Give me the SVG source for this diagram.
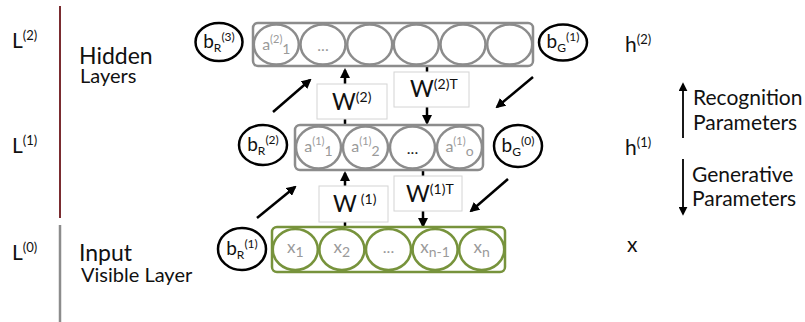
<svg xmlns="http://www.w3.org/2000/svg" width="805" height="322" viewBox="0 0 805 322">
<style>
text{font-family:Lato,"Open Sans","Liberation Sans",sans-serif;fill:#111}
.lbl{font-size:21px}
.sup{font-size:13px}
.bias{fill:#fff;stroke:#000;stroke-width:2.5}
.bt{font-size:19px;text-anchor:middle}
.bs{font-size:12px}
.layer{fill:none;stroke:#8c8c8c;stroke-width:2.5}
.unit{fill:none;stroke:#8c8c8c;stroke-width:2.5}
.g .layer,.g .unit{stroke:#77933c}
.ut{font-size:16px;fill:#9a9a9a;text-anchor:middle}
.us{font-size:11px;fill:#9a9a9a}
.ub{font-size:14px;fill:#9a9a9a}
.box{fill:#fff;stroke:#d4d4d4;stroke-width:1}
.wt{font-size:23px;fill:#111}
.ws{font-size:14px}
.arr{stroke:#000;stroke-width:2.5;fill:none;marker-end:url(#ah)}
.rt{font-size:21px}
</style>
<defs>
<marker id="ah" viewBox="0 0 10 10" refX="8" refY="5" markerWidth="4" markerHeight="4" orient="auto" markerUnits="strokeWidth">
<path d="M0,0 L10,5 L0,10 z" fill="#000"/>
</marker>
<marker id="ah2" viewBox="0 0 10 10" refX="8" refY="5" markerWidth="5" markerHeight="5" orient="auto" markerUnits="strokeWidth">
<path d="M0,0 L10,5 L0,10 z" fill="#000"/>
</marker>
</defs>

<g id="left-axis">
<line x1="60" y1="6" x2="60" y2="218" stroke="#7a2c30" stroke-width="2"/>
<line x1="60" y1="225" x2="60" y2="322" stroke="#8c8c8c" stroke-width="2.5"/>
<text class="lbl" x="12" y="48">L<tspan class="sup" dy="-8">(2)</tspan></text>
<text class="lbl" x="12" y="153">L<tspan class="sup" dy="-8">(1)</tspan></text>
<text class="lbl" x="12" y="260">L<tspan class="sup" dy="-8">(0)</tspan></text>
<text x="79" y="64" style="font-size:23px">Hidden</text>
<text x="80" y="83" style="font-size:20px">Layers</text>
<text x="79" y="261" style="font-size:23px">Input</text>
<text x="81" y="282" style="font-size:20px">Visible Layer</text>
</g>

<g id="connectors">
<line class="arr" x1="273" y1="112" x2="310" y2="80"/>
<line class="arr" x1="533" y1="77" x2="497" y2="107"/>
<line class="arr" x1="257" y1="218" x2="295" y2="187"/>
<line class="arr" x1="508" y1="179" x2="471" y2="211"/>
<line class="arr" x1="345" y1="125" x2="345" y2="70"/>
<line class="arr" x1="427" y1="67" x2="427" y2="123"/>
<line class="arr" x1="345" y1="228" x2="345" y2="173"/>
<line class="arr" x1="423" y1="170" x2="423" y2="226"/>
</g>

<g id="layer-h2">
<rect class="layer" x="253" y="23" width="280" height="43" rx="5"/>
<ellipse class="unit" cx="276.3" cy="44.5" rx="22.5" ry="20"/>
<ellipse class="unit" cx="323" cy="44.5" rx="22.5" ry="20"/>
<ellipse class="unit" cx="369.7" cy="44.5" rx="22.5" ry="20"/>
<ellipse class="unit" cx="416.3" cy="44.5" rx="22.5" ry="20"/>
<ellipse class="unit" cx="463" cy="44.5" rx="22.5" ry="20"/>
<ellipse class="unit" cx="509.7" cy="44.5" rx="22.5" ry="20"/>
<text class="ut" x="276.3" y="50">a<tspan class="us" dy="-7">(2)</tspan><tspan class="ub" dy="11">1</tspan></text>
<text class="ut" x="323" y="51">...</text>
</g>

<g id="layer-h1">
<rect class="layer" x="295" y="125" width="188" height="45" rx="5"/>
<ellipse class="unit" cx="318.5" cy="147.5" rx="22.5" ry="21"/>
<ellipse class="unit" cx="365.5" cy="147.5" rx="22.5" ry="21"/>
<ellipse class="unit" cx="412.5" cy="147.5" rx="22.5" ry="21"/>
<ellipse class="unit" cx="459.5" cy="147.5" rx="22.5" ry="21"/>
<text class="ut" x="318.5" y="152">a<tspan class="us" dy="-7">(1)</tspan><tspan class="ub" dy="11">1</tspan></text>
<text class="ut" x="365.5" y="152">a<tspan class="us" dy="-7">(1)</tspan><tspan class="ub" dy="11">2</tspan></text>
<text class="ut" x="412.5" y="154" style="fill:#222">...</text>
<text class="ut" x="459.5" y="152">a<tspan class="us" dy="-7">(1)</tspan><tspan class="ub" dy="11">o</tspan></text>
</g>

<g id="layer-x" class="g">
<rect class="layer" x="272" y="227" width="233" height="45" rx="5"/>
<ellipse class="unit" cx="295.3" cy="249.5" rx="22.5" ry="20.5"/>
<ellipse class="unit" cx="341.9" cy="249.5" rx="22.5" ry="20.5"/>
<ellipse class="unit" cx="388.5" cy="249.5" rx="22.5" ry="20.5"/>
<ellipse class="unit" cx="435.1" cy="249.5" rx="22.5" ry="20.5"/>
<ellipse class="unit" cx="481.7" cy="249.5" rx="22.5" ry="20.5"/>
<text class="ut" x="295.3" y="253" style="font-size:17px">x<tspan class="ub" dy="4">1</tspan></text>
<text class="ut" x="341.9" y="253" style="font-size:17px">x<tspan class="ub" dy="4">2</tspan></text>
<text class="ut" x="388.5" y="253">...</text>
<text class="ut" x="435.1" y="253" style="font-size:17px">x<tspan class="ub" dy="4">n-1</tspan></text>
<text class="ut" x="481.7" y="253" style="font-size:17px">x<tspan class="ub" dy="4">n</tspan></text>
</g>

<g id="box-w2">
<rect class="box" x="317" y="84" width="70" height="35"/>
<text class="wt" x="332" y="110">W<tspan class="ws" dy="-8">(2)</tspan></text>
</g>
<g id="box-w2t">
<rect class="box" x="394" y="72" width="75" height="35"/>
<text class="wt" x="410" y="97">W<tspan class="ws" dy="-8">(2)T</tspan></text>
</g>
<g id="box-w1">
<rect class="box" x="319" y="186" width="69" height="36"/>
<text class="wt" x="333" y="212">W<tspan class="ws" dx="4" dy="-8">(1)</tspan></text>
</g>
<g id="box-w1t">
<rect class="box" x="394" y="176" width="68" height="35"/>
<text class="wt" x="406" y="202">W<tspan class="ws" dy="-8">(1)T</tspan></text>
</g>

<g id="bias-r3">
<ellipse class="bias" cx="219" cy="42" rx="23.5" ry="19"/>
<text class="bt" x="219" y="48">b<tspan class="bs" dy="4">R</tspan><tspan class="bs" dy="-11">(3)</tspan></text>
</g>
<g id="bias-g1">
<ellipse class="bias" cx="563" cy="42.5" rx="24" ry="18"/>
<text class="bt" x="563" y="48">b<tspan class="bs" dy="4">G</tspan><tspan class="bs" dy="-11">(1)</tspan></text>
</g>
<g id="bias-r2">
<ellipse class="bias" cx="263" cy="145" rx="24" ry="20"/>
<text class="bt" x="263" y="151">b<tspan class="bs" dy="4">R</tspan><tspan class="bs" dy="-11">(2)</tspan></text>
</g>
<g id="bias-g0">
<ellipse class="bias" cx="518" cy="146" rx="24" ry="21"/>
<text class="bt" x="518" y="152">b<tspan class="bs" dy="4">G</tspan><tspan class="bs" dy="-11">(0)</tspan></text>
</g>
<g id="bias-r1">
<ellipse class="bias" cx="242" cy="249" rx="24" ry="21"/>
<text class="bt" x="242" y="255">b<tspan class="bs" dy="4">R</tspan><tspan class="bs" dy="-11">(1)</tspan></text>
</g>

<g id="right-labels">
<text class="lbl" x="625" y="52">h<tspan class="sup" dy="-8">(2)</tspan></text>
<text class="lbl" x="625" y="155">h<tspan class="sup" dy="-8">(1)</tspan></text>
<text class="lbl" x="627" y="252">x</text>
<line x1="683" y1="138" x2="683" y2="84" stroke="#000" stroke-width="1.8" marker-end="url(#ah2)"/>
<line x1="683" y1="159" x2="683" y2="214" stroke="#000" stroke-width="1.8" marker-end="url(#ah2)"/>
<text class="rt" x="693" y="105">Recognition</text>
<text class="rt" x="693" y="130">Parameters</text>
<text class="rt" x="692" y="182">Generative</text>
<text class="rt" x="692" y="206">Parameters</text>
</g>
</svg>
